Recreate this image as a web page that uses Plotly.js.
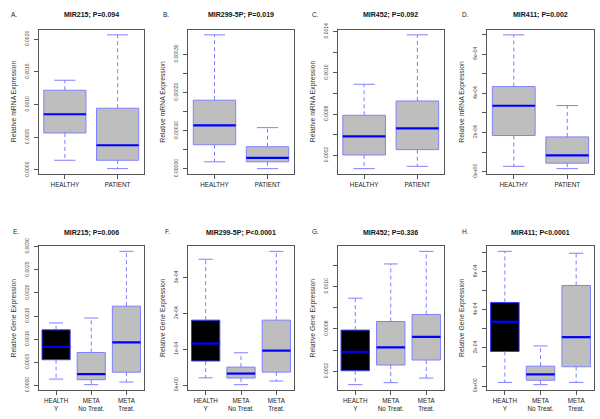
<!DOCTYPE html>
<html>
<head>
<meta charset="utf-8">
<script src="https://cdn.plot.ly/plotly-3.0.1.min.js"></script>
<style>html,body{margin:0;padding:0;background:#fff;}#chart{width:600px;height:419px;}</style>
</head>
<body>
<div id="chart"></div>
<script>
// ---------- data ----------
const panelLetters = ['A.','B.','C.','D.','E.','F.','G.','H.'];
const panelTitles = ['MIR215; P=0.094','MIR299-5P; P=0.019','MIR452; P=0.092','MIR411; P=0.002',
                     'MIR215; P=0.006','MIR299-5P; P<0.0001','MIR452; P=0.336','MIR411; P<0.0001'];
const yTitles = ['Relative mRNA Expression','Relative Gene Expression'];
const topGroups = ['HEALTHY','PATIENT'];
const bottomGroups = ['HEALTH<br>Y','META<br>No Treat.','META<br>Treat.'];

// box statistics: lower whisker, Q1, median, Q3, upper whisker
const lowA = [0.000148, 0.000020], q1A = [0.000566, 0.000148], medA = [0.000852, 0.000378], q3A = [0.001219, 0.000944], highA = [0.001372, 0.002066];
const lowB = [0.0000184, 0.0000005], q1B = [0.0000632, 0.0000184], medB = [0.000114, 0.0000289], q3B = [0.0001798, 0.0000579], highB = [0.000351, 0.0001079];
const lowC = [0.0000706, 0.0000933], q1C = [0.000203, 0.000255], medC = [0.000384, 0.000462], q3C = [0.000588, 0.000727], highC = [0.000889, 0.001368];
const lowD = [0.000027, 0.000015], q1D = [0.000184, 0.000043], medD = [0.000336, 0.000083], q3D = [0.000434, 0.000177], highD = [0.000698, 0.000337];
const lowE = [0.000135, 0.000014, 0.000071], q1E = [0.000554, 0.000121, 0.000284], medE = [0.000832, 0.000242, 0.000931], q3E = [0.001201, 0.000711, 0.001713], highE = [0.001350, 0.001457, 0.002900];
const lowF = [0.000020, 0.000001, 0.000011], q1F = [0.000067, 0.0000195, 0.000036], medF = [0.000116, 0.000032, 0.000096], q3F = [0.000181, 0.000050, 0.000181], highF = [0.000351, 0.000090, 0.000373];
const lowG = [0.0000746, 0.0000934, 0.000137], q1G = [0.000206, 0.000260, 0.000307], medG = [0.000385, 0.000426, 0.000526], q3G = [0.000589, 0.000670, 0.000736], highG = [0.000890, 0.001213, 0.001332];
const lowH = [0.000019, 0.000007, 0.000019], q1H = [0.000181, 0.000030, 0.000101], medH = [0.000337, 0.000061, 0.000256], q3H = [0.000438, 0.000104, 0.000527], highH = [0.000706, 0.000210, 0.000696];

// y tick values and labels
const tvA = [0, 0.0005, 0.0010, 0.0015, 0.0020], ttA = ['0.0000','0.0005','0.0010','0.0015','0.0020'];
const tvB = [0, 0.00005, 0.0001, 0.00015, 0.0002, 0.00025, 0.0003], ttB = ['0.00000','','0.00010','','0.00020','','0.00030'];
const tvC = [0.0002, 0.0004, 0.0006, 0.0008, 0.0010, 0.0012, 0.0014], ttC = ['0.0002','','0.0006','','0.0010','','0.0014'];
const tvD = [0, 1e-4, 2e-4, 3e-4, 4e-4, 5e-4, 6e-4, 7e-4], ttD = ['0e+00','','2e-04','','4e-04','','6e-04',''];
const tvE = [0, 0.0005, 0.0010, 0.0015, 0.0020, 0.0025, 0.0030], ttE = ['0.0000','0.0005','0.0010','0.0015','0.0020','0.0025','0.0030'];
const tvF = [0, 1e-4, 2e-4, 3e-4], ttF = ['0e+00','1e-04','2e-04','3e-04'];
const tvG = [0.0002, 0.0004, 0.0006, 0.0008, 0.0010, 0.0012], ttG = ['0.0002','','0.0006','','0.0010',''];
const tvH = [0, 1e-4, 2e-4, 3e-4, 4e-4, 5e-4, 6e-4, 7e-4], ttH = ['0e+00','','2e-04','','4e-04','','6e-04',''];

// ---------- assembly ----------
const stats = [
  [lowA,q1A,medA,q3A,highA],[lowB,q1B,medB,q3B,highB],[lowC,q1C,medC,q3C,highC],[lowD,q1D,medD,q3D,highD],
  [lowE,q1E,medE,q3E,highE],[lowF,q1F,medF,q3F,highF],[lowG,q1G,medG,q3G,highG],[lowH,q1H,medH,q3H,highH]
];
const ticks = [[tvA,ttA],[tvB,ttB],[tvC,ttC],[tvD,ttD],[tvE,ttE],[tvF,ttF],[tvG,ttG],[tvH,ttH]];

const W = 600, H = 419;
const colPx = [[38.5,144],[188,294],[337.5,444],[487,594]];
const rowPx = [[29.5,174],[246,390]];
const titleY = [15, 233];
const letterPos = [[14,14],[166,14],[316,14],[466,14],[16,231],[167,231],[316,232],[466,232]];
const FONT = 'Liberation Sans, Arial, sans-serif';
const boxW = 0.8, capW = 0.4;

const data = [];
const layout = {
  width: W, height: H, margin: {l:0,r:0,t:0,b:0},
  paper_bgcolor: '#fff', plot_bgcolor: '#fff', showlegend: false,
  boxmode: 'overlay', annotations: [], font: {family: FONT, color: '#222'}
};

for (let p = 0; p < 8; p++) {
  const row = p < 4 ? 0 : 1, col = p % 4;
  const groups = row === 0 ? topGroups : bottomGroups;
  const [lo, q1, md, q3, hi] = stats[p];
  const n = groups.length;
  const xs = groups.map((g, i) => i + 1);
  const sfx = p === 0 ? '' : String(p + 1);
  const xa = 'x' + sfx, ya = 'y' + sfx;

  // boxes (whiskers drawn separately so they can be dashed)
  for (let i = 0; i < n; i++) {
    const dark = row === 1 && i === 0;
    data.push({
      type: 'box', x: [xs[i]], q1: [q1[i]], median: [md[i]], q3: [q3[i]],
      lowerfence: [q1[i]], upperfence: [q3[i]], width: boxW, whiskerwidth: 0,
      fillcolor: dark ? '#000000' : '#bebebe',
      line: {color: dark ? '#3a3aff' : '#8080ff', width: 1},
      boxpoints: false, hoverinfo: 'skip', xaxis: xa, yaxis: ya
    });
  }
  // dashed whiskers
  const wx = [], wy = [];
  for (let i = 0; i < n; i++) {
    wx.push(xs[i], xs[i], null, xs[i], xs[i], null);
    wy.push(q3[i], hi[i], null, q1[i], lo[i], null);
  }
  data.push({type:'scatter', mode:'lines', x: wx, y: wy, xaxis: xa, yaxis: ya,
    line: {color:'#7f7fff', width: 1, dash: '4px,3px'}, hoverinfo:'skip', connectgaps:false});
  // staples
  const cx = [], cy = [];
  for (let i = 0; i < n; i++) {
    cx.push(xs[i]-capW/2, xs[i]+capW/2, null, xs[i]-capW/2, xs[i]+capW/2, null);
    cy.push(hi[i], hi[i], null, lo[i], lo[i], null);
  }
  data.push({type:'scatter', mode:'lines', x: cx, y: cy, xaxis: xa, yaxis: ya,
    line: {color:'#7f7fff', width: 1}, hoverinfo:'skip'});
  // medians
  const mx = [], my = [];
  for (let i = 0; i < n; i++) {
    mx.push(xs[i]-boxW/2, xs[i]+boxW/2, null);
    my.push(md[i], md[i], null);
  }
  data.push({type:'scatter', mode:'lines', x: mx, y: my, xaxis: xa, yaxis: ya,
    line: {color:'#0000ff', width: 2.2}, hoverinfo:'skip'});

  // axis ranges following R's 4% extension
  const mn = Math.min(...lo), mxv = Math.max(...hi), pad = 0.04 * (mxv - mn);
  const dx = [colPx[col][0]/W, colPx[col][1]/W];
  const dy = [1 - rowPx[row][1]/H, 1 - rowPx[row][0]/H];
  layout['xaxis' + sfx] = {
    domain: dx, anchor: ya, range: [0.5, n + 0.5], tickvals: xs, ticktext: groups,
    ticks: 'outside', ticklen: 4, tickcolor: '#555', showline: true, linecolor: '#555', linewidth: 1,
    mirror: true, showgrid: false, zeroline: false, tickfont: {family: FONT, size: 6.3, color: '#222'},
    fixedrange: true
  };
  layout['yaxis' + sfx] = {
    domain: dy, anchor: xa, range: [mn - pad, mxv + pad], tickvals: ticks[p][0], ticktext: ticks[p][1],
    tickangle: -90, ticks: 'outside', ticklen: 4, tickcolor: '#555', showline: true, linecolor: '#555',
    linewidth: 1, mirror: true, showgrid: false, zeroline: false, ticklabelstandoff: 3,
    tickfont: {family: FONT, size: 5, color: '#444'}, fixedrange: true
  };

  // panel title
  layout.annotations.push({
    text: '<b>' + panelTitles[p].replace('<', '&lt;') + '</b>', xref: 'paper', yref: 'paper',
    x: (colPx[col][0] + colPx[col][1]) / 2 / W, y: 1 - titleY[row] / H,
    xanchor: 'center', yanchor: 'middle', showarrow: false, font: {family: FONT, size: 7, color: '#111'}
  });
  // panel letter
  layout.annotations.push({
    text: panelLetters[p], xref: 'paper', yref: 'paper',
    x: letterPos[p][0] / W, y: 1 - letterPos[p][1] / H,
    xanchor: 'center', yanchor: 'middle', showarrow: false, font: {family: FONT, size: 6.5, color: '#222'}
  });
  // y-axis title
  layout.annotations.push({
    text: yTitles[row], xref: 'paper', yref: 'paper', textangle: -90,
    x: (colPx[col][0] - 25) / W, y: 1 - (rowPx[row][0] + rowPx[row][1]) / 2 / H,
    xanchor: 'center', yanchor: 'middle', showarrow: false, font: {family: FONT, size: 6.8, color: '#333'}
  });
}

Plotly.newPlot('chart', data, layout, {staticPlot: true, displayModeBar: false});
</script>
</body>
</html>
